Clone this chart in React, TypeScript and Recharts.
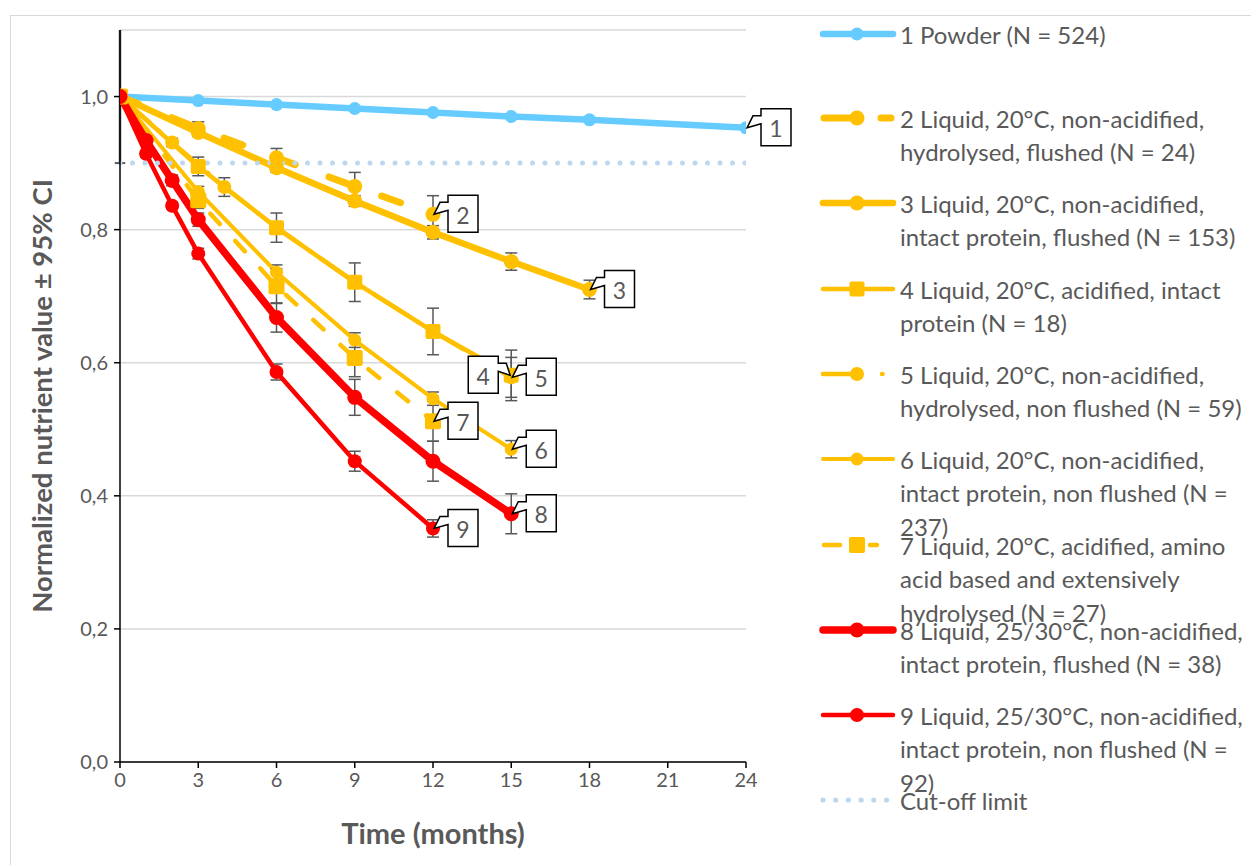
import React from 'react';
import { LineChart, Line, XAxis, YAxis, CartesianGrid, ErrorBar, LabelList, ReferenceLine } from 'recharts';

// ---------- data ----------
const monthTicks = [0, 3, 6, 9, 12, 15, 18, 21, 24];
const valueTicks = [0, 0.2, 0.4, 0.6, 0.8, 1.0];
const cutOffValue = 0.9;

const s1Months = [0, 3, 6, 9, 12, 15, 18, 24];
const s1Values = [1.0, 0.994, 0.988, 0.982, 0.976, 0.97, 0.965, 0.953];

const s2Months = [0, 3, 6, 9, 12];
const s2Values = [1.0, 0.952, 0.908, 0.865, 0.823];
const s2Errors = [null, 0.01, 0.014, 0.021, 0.028];

const s3Months = [0, 3, 6, 9, 12, 15, 18];
const s3Values = [1.0, 0.946, 0.893, 0.843, 0.796, 0.752, 0.71];
const s3Errors = [null, 0.006, 0.007, 0.008, 0.01, 0.013, 0.014];

const s4Months = [0, 3, 6, 9, 12, 15];
const s4Values = [1.0, 0.895, 0.803, 0.721, 0.647, 0.581];
const s4Errors = [null, 0.014, 0.022, 0.029, 0.035, 0.038];

const s5Months = [0, 2, 4, 6, 9, 12, 15];
const s5Values = [1.0, 0.931, 0.864, 0.803, 0.721, 0.647, 0.578];
const s5Errors = [null, 0.006, 0.014, null, null, null, 0.03];

const s6Months = [0, 3, 6, 9, 12, 15];
const s6Values = [1.0, 0.857, 0.736, 0.634, 0.546, 0.47];
const s6Errors = [null, 0.008, 0.011, 0.011, 0.01, 0.013];

const s7Months = [0, 3, 6, 9, 12];
const s7Values = [1.0, 0.844, 0.715, 0.607, 0.512];
const s7Errors = [null, 0.012, 0.026, 0.028, 0.03];

const s8Months = [0, 1, 2, 3, 6, 9, 12, 15];
const s8Values = [1.0, 0.934, 0.874, 0.815, 0.668, 0.548, 0.452, 0.373];
const s8Errors = [null, 0.005, 0.008, 0.01, 0.022, 0.027, 0.03, 0.03];

const s9Months = [0, 1, 2, 3, 6, 9, 12];
const s9Values = [1.0, 0.914, 0.836, 0.764, 0.586, 0.452, 0.351];
const s9Errors = [null, 0.005, 0.005, 0.008, 0.012, 0.015, 0.013];

const cutOffMonths = [0, 24];

const legendLines = [
  ['1 Powder (N = 524)'],
  ['2 Liquid, 20°C, non-acidified,', 'hydrolysed, flushed (N = 24)'],
  ['3 Liquid, 20°C, non-acidified,', 'intact protein, flushed (N = 153)'],
  ['4 Liquid, 20°C, acidified, intact', 'protein (N = 18)'],
  ['5 Liquid, 20°C, non-acidified,', 'hydrolysed, non flushed (N = 59)'],
  ['6 Liquid, 20°C, non-acidified,', 'intact protein, non flushed (N =', '237)'],
  ['7 Liquid, 20°C, acidified, amino', 'acid based and extensively', 'hydrolysed (N = 27)'],
  ['8 Liquid, 25/30°C, non-acidified,', 'intact protein, flushed (N = 38)'],
  ['9 Liquid, 25/30°C, non-acidified,', 'intact protein, non flushed (N =', '92)'],
  ['Cut-off limit'],
];
const calloutTexts = ['1', '2', '3', '4', '5', '6', '7', '8', '9'];

const build = (m: number[], v: number[], e?: (number | null)[]) =>
  m.map((x, i) => ({ x, y: v[i], e: e ? e[i] : null }));

const series = [
  build(s1Months, s1Values),
  build(s2Months, s2Values, s2Errors),
  build(s3Months, s3Values, s3Errors),
  build(s4Months, s4Values, s4Errors),
  build(s5Months, s5Values, s5Errors),
  build(s6Months, s6Values, s6Errors),
  build(s7Months, s7Values, s7Errors),
  build(s8Months, s8Values, s8Errors),
  build(s9Months, s9Values, s9Errors),
];
const cutOffData = cutOffMonths.map((x) => ({ x, y: cutOffValue }));

// ---------- styles ----------
const BLUE = '#66CCFF';
const YEL = '#FFC000';
const RED = '#FF0000';
const TXT = '#595959';
const FONT = 'Lato, "Open Sans", sans-serif';

type Sty = { color: string; width: number; dash?: string; marker: 'circle' | 'square'; size: number; side: 'left' | 'right' };
const sty: Sty[] = [
  { color: BLUE, width: 6.5, marker: 'circle', size: 6.5, side: 'right' },
  { color: YEL, width: 7, dash: '20 36', marker: 'circle', size: 7.5, side: 'right' },
  { color: YEL, width: 6.5, marker: 'circle', size: 7.5, side: 'right' },
  { color: YEL, width: 4.5, marker: 'square', size: 15, side: 'left' },
  { color: YEL, width: 4.5, dash: '40 12 0.5 12', marker: 'circle', size: 7, side: 'right' },
  { color: YEL, width: 4, marker: 'circle', size: 6.5, side: 'right' },
  { color: YEL, width: 4.5, dash: '14 23', marker: 'square', size: 16, side: 'right' },
  { color: RED, width: 7.5, marker: 'circle', size: 7.5, side: 'right' },
  { color: RED, width: 4.5, marker: 'circle', size: 7, side: 'right' },
];
// drawing order (5 under 4)
const drawOrder = [0, 1, 2, 4, 3, 5, 6, 7, 8];

const Callout = ({ px, py, text, side }: { px: number; py: number; text: string; side: 'left' | 'right' }) => {
  const w = 30;
  const h = 37;
  const top = py - 19;
  let d: string;
  let cx: number;
  if (side === 'right') {
    const bx = px + 15;
    d = `M${bx},${top} H${bx + w} V${top + h} H${bx} V${top + 15} L${px + 1},${py} L${bx - 8},${top + 7} H${bx} Z`;
    cx = bx + w / 2;
  } else {
    const br = px - 13;
    d = `M${br},${top} H${br - w} V${top + h} H${br} V${top + 15} L${px - 1},${py} L${br + 8},${top + 7} H${br} Z`;
    cx = br - w / 2;
  }
  return (
    <g>
      <path d={d} fill="#fff" stroke="#000" strokeWidth={1.5} strokeLinejoin="miter" />
      <text x={cx} y={top + h / 2 + 1} textAnchor="middle" dominantBaseline="central" fontFamily={FONT} fontSize={23} fill={TXT}>
        {text}
      </text>
    </g>
  );
};

const makeDot = (s: Sty) => {
  if (s.marker === 'circle') {
    return { r: s.size, fill: s.color, stroke: s.color, strokeWidth: 0 };
  }
  return (p: any) => (
    <rect key={`sq-${p.index}`} x={p.cx - s.size / 2} y={p.cy - s.size / 2} width={s.size} height={s.size} rx={2} fill={s.color} />
  );
};

const LegendIcon = ({ i, y }: { i: number; y: number }) => {
  const mx = 857;
  if (i === 9) {
    return (
      <g>
        {[0, 1, 2, 3, 4, 5].map((k) => (
          <circle key={k} cx={823 + k * 12.7} cy={y} r={2.6} fill="#BDD7EE" />
        ))}
      </g>
    );
  }
  const s = sty[i];
  let segs: [number, number][] = [[823, 893]];
  if (i === 1) segs = [[824, 855], [881, 891]];
  if (i === 4) segs = [[823, 855], [882, 882.5]];
  if (i === 6) segs = [[824, 840], [870, 877]];
  return (
    <g>
      {segs.map(([a, b], k) => (
        <line key={k} x1={a} x2={b} y1={y} y2={y} stroke={s.color} strokeWidth={s.width} strokeLinecap="round" />
      ))}
      {s.marker === 'circle' ? (
        <circle cx={mx} cy={y} r={s.size} fill={s.color} />
      ) : (
        <rect x={mx - s.size / 2} y={y - s.size / 2} width={s.size} height={s.size} rx={2} fill={s.color} />
      )}
    </g>
  );
};

const legendRowY = [34, 118, 203, 289, 374, 459, 545, 630, 715, 800];
const legendLineH = 33.7;

const Overlay = () => (
  <svg width={1251} height={865} style={{ position: 'absolute', left: 0, top: 0, pointerEvents: 'none' }}>
    <rect x={10.5} y={15.5} width={1300} height={900} fill="none" stroke="#D9D9D9" strokeWidth={1} />
    {legendLines.map((lines, i) => (
      <g key={i}>
        <LegendIcon i={i} y={legendRowY[i]} />
        {lines.map((t, k) => (
          <text key={k} x={900} y={legendRowY[i] + k * legendLineH} dominantBaseline="central" fontFamily={FONT} fontSize={24} fill={TXT}>
            {t}
          </text>
        ))}
      </g>
    ))}
  </svg>
);

export default function App() {
  return (
    <div style={{ position: 'absolute', left: 0, top: 0, width: 1251, height: 865, background: '#fff' }}>
      <LineChart width={1251} height={865} margin={{ top: 30, right: 505, bottom: 23, left: 60 }}>
        <CartesianGrid vertical={false} stroke="#D9D9D9" strokeWidth={1.5} />
        <XAxis
          dataKey="x"
          type="number"
          domain={[0, 24]}
          ticks={monthTicks}
          allowDataOverflow
          height={80}
          tickSize={6}
          tickMargin={5}
          stroke="#000"
          strokeWidth={1.5}
          tick={{ fontFamily: FONT, fontSize: 20, fill: TXT }}
          label={{
            content: (p: any) => (
              <text
                x={p.viewBox.x + p.viewBox.width / 2}
                y={p.viewBox.y + 70}
                textAnchor="middle"
                dominantBaseline="central"
                fontFamily={FONT}
                fontWeight="bold"
                fontSize={29}
                fill={TXT}
              >
                Time (months)
              </text>
            ),
          }}
        />
        <YAxis
          type="number"
          domain={[0, 1.1]}
          ticks={valueTicks}
          width={60}
          tickSize={6}
          tickMargin={6}
          stroke="#000"
          strokeWidth={1.5}
          tickFormatter={(v: number) => v.toFixed(1).replace('.', ',')}
          tick={{ fontFamily: FONT, fontSize: 20, fill: TXT }}
          label={{
            content: (p: any) => {
              const cx = p.viewBox.x - 19;
              const cy = p.viewBox.y + p.viewBox.height / 2;
              return (
                <text
                  x={cx}
                  y={cy}
                  transform={`rotate(-90, ${cx}, ${cy})`}
                  textAnchor="middle"
                  dominantBaseline="central"
                  fontFamily={FONT}
                  fontWeight="bold"
                  fontSize={27.5}
                  fill={TXT}
                >
                  Normalized nutrient value ± 95% CI
                </text>
              );
            },
          }}
        />
        <ReferenceLine
          segment={[{ x: 0, y: cutOffValue }, { x: 0, y: 1.1 }]}
          stroke={TXT}
          strokeWidth={2.5}
          ifOverflow="visible"
        />
        <ReferenceLine
          segment={[{ x: -0.2, y: cutOffValue }, { x: 0.2, y: cutOffValue }]}
          stroke={TXT}
          strokeWidth={2}
          ifOverflow="visible"
        />
        {drawOrder.map((i) => {
          const s = sty[i];
          const data = series[i];
          const last = data.length - 1;
          return (
            <Line
              key={`s${i}`}
              data={data}
              dataKey="y"
              type="linear"
              stroke={s.color}
              strokeWidth={s.width}
              strokeDasharray={s.dash}
              strokeLinecap="round"
              dot={makeDot(s) as any}
              activeDot={false}
              isAnimationActive={false}
            >
              <ErrorBar dataKey="e" width={6} stroke={TXT} strokeWidth={1.5} direction="y" />
              <LabelList
                dataKey="y"
                content={(p: any) =>
                  p.index === last ? <Callout px={p.x} py={p.y} text={calloutTexts[i]} side={s.side} /> : null
                }
              />
            </Line>
          );
        })}
        <Line
          data={cutOffData}
          dataKey="y"
          stroke="#BDD7EE"
          strokeWidth={5}
          strokeDasharray="0 12.5"
          strokeLinecap="round"
          dot={false}
          activeDot={false}
          isAnimationActive={false}
        />
      </LineChart>
      <Overlay />
    </div>
  );
}
